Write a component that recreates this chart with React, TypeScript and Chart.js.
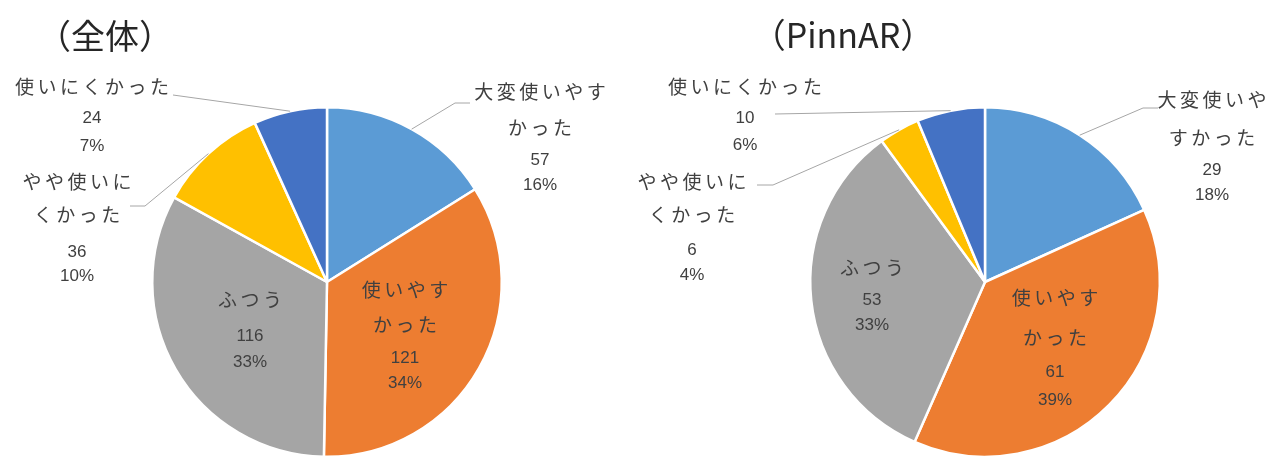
import React, { useEffect, useRef } from 'react';
import { Chart, registerables } from 'chart.js';

Chart.register(...registerables);

// ---- data ----
const categories = ['大変使いやすかった', '使いやすかった', 'ふつう', 'やや使いにくかった', '使いにくかった'];
const sliceColors = ['#5B9BD5', '#ED7D31', '#A5A5A5', '#FFC000', '#4472C4'];

const overallTitle = '（全体）';
const overallValues = [57, 121, 116, 36, 24];
const overallPercents = ['16%', '34%', '33%', '10%', '7%'];
const overallNameLines = [['大変使いやす', 'かった'], ['使いやす', 'かった'], ['ふつう'], ['やや使いに', 'くかった'], ['使いにくかった']];

const pinnarTitle = '（PinnAR）';
const pinnarValues = [29, 61, 53, 6, 10];
const pinnarPercents = ['18%', '39%', '33%', '4%', '6%'];
const pinnarNameLines = [['大変使いや', 'すかった'], ['使いやす', 'かった'], ['ふつう'], ['やや使いに', 'くかった'], ['使いにくかった']];

// ---- layout (page coordinates) ----
const W = 1272;
const H = 480;
const JP_FONT = "19px 'Noto Sans CJK JP', 'Noto Sans', sans-serif";
const NUM_FONT = "17px 'Liberation Sans Narrow', 'Liberation Sans', 'Noto Sans', sans-serif";
const TEXT_COLOR = '#404040';
const LEADER_COLOR = '#A6A6A6';

type LabelLayout = { x: number; ys: number[]; leader?: number[][] };

const overallLayout: LabelLayout[] = [
  { x: 540, ys: [92, 128, 160, 185], leader: [[455, 103], [470, 103]] },
  { x: 405, ys: [290, 325, 358, 383] },
  { x: 250, ys: [300, 336, 362] },
  { x: 77, ys: [182, 215, 252, 276], leader: [[145, 206], [130, 206]] },
  { x: 92, ys: [87, 118, 146], leader: [[173, 95]] },
];
const pinnarLayout: LabelLayout[] = [
  { x: 1212, ys: [100, 138, 170, 195], leader: [[1143, 108], [1158, 108]] },
  { x: 1055, ys: [298, 338, 372, 400] },
  { x: 872, ys: [268, 300, 325] },
  { x: 692, ys: [182, 215, 250, 275], leader: [[773, 185], [757, 185]] },
  { x: 745, ys: [87, 118, 145], leader: [[775, 114]] },
];

type PieSpec = {
  title: string;
  titleX: number;
  titleY: number;
  titleFont: string;
  values: number[];
  percents: string[];
  nameLines: string[][];
  layout: LabelLayout[];
  padding: { left: number; right: number; top: number; bottom: number };
};

const pies: PieSpec[] = [
  {
    title: overallTitle,
    titleX: 105,
    titleY: 36,
    titleFont: "34px 'Noto Sans CJK JP', sans-serif",
    values: overallValues,
    percents: overallPercents,
    nameLines: overallNameLines,
    layout: overallLayout,
    padding: { left: 151, right: W - 503, top: 106, bottom: H - 458 },
  },
  {
    title: pinnarTitle,
    titleX: 843,
    titleY: 35,
    titleFont: "34px 'Noto Sans CJK JP', sans-serif",
    values: pinnarValues,
    percents: pinnarPercents,
    nameLines: pinnarNameLines,
    layout: pinnarLayout,
    padding: { left: 809, right: W - 1161, top: 106, bottom: H - 458 },
  },
];

function makeLabelPlugin(spec: PieSpec) {
  return {
    id: 'pieLabels',
    afterDatasetsDraw(chart: any) {
      const ctx: CanvasRenderingContext2D = chart.ctx;
      const meta = chart.getDatasetMeta(0);
      ctx.save();
      // title
      ctx.font = spec.titleFont;
      ctx.fillStyle = '#262626';
      ctx.textAlign = 'center';
      ctx.textBaseline = 'middle';
      ctx.fillText(spec.title, spec.titleX, spec.titleY);

      meta.data.forEach((arc: any, i: number) => {
        const lay = spec.layout[i];
        const props = arc.getProps(['x', 'y', 'startAngle', 'endAngle', 'outerRadius'], true);
        const mid = (props.startAngle + props.endAngle) / 2;
        if (lay.leader) {
          const sx = props.x + Math.cos(mid) * props.outerRadius;
          const sy = props.y + Math.sin(mid) * props.outerRadius;
          ctx.beginPath();
          ctx.strokeStyle = LEADER_COLOR;
          ctx.lineWidth = 1;
          ctx.moveTo(sx, sy);
          lay.leader.forEach((p) => ctx.lineTo(p[0], p[1]));
          ctx.stroke();
        }
        const lines: { t: string; f: string }[] = [];
        spec.nameLines[i].forEach((t) => lines.push({ t, f: 'jp' }));
        lines.push({ t: String(spec.values[i]), f: 'num' });
        lines.push({ t: spec.percents[i], f: 'num' });
        lines.forEach((ln, k) => {
          ctx.fillStyle = TEXT_COLOR;
          ctx.textAlign = 'center';
          ctx.textBaseline = 'middle';
          if (ln.f === 'jp') {
            ctx.font = JP_FONT;
            (ctx as any).letterSpacing = '3.5px';
            ctx.fillText(ln.t, lay.x + 1.75, lay.ys[k]);
          } else {
            ctx.font = NUM_FONT;
            (ctx as any).letterSpacing = '0px';
            ctx.fillText(ln.t, lay.x, lay.ys[k]);
          }
        });
      });
      ctx.restore();
    },
  };
}

function PieCanvas({ spec }: { spec: PieSpec }) {
  const ref = useRef<HTMLCanvasElement | null>(null);
  useEffect(() => {
    if (!ref.current) return;
    const chart = new Chart(ref.current, {
      type: 'pie',
      data: {
        labels: categories,
        datasets: [
          {
            data: spec.values,
            backgroundColor: sliceColors,
            borderColor: '#FFFFFF',
            borderWidth: 2.5,
          },
        ],
      },
      options: {
        animation: false,
        responsive: false,
        devicePixelRatio: 1,
        layout: { padding: spec.padding },
        plugins: {
          legend: { display: false },
          tooltip: { enabled: false },
          title: { display: false },
        },
        events: [],
      },
      plugins: [makeLabelPlugin(spec)],
    });
    return () => chart.destroy();
  }, [spec]);
  return (
    <canvas
      ref={ref}
      width={W}
      height={H}
      style={{ position: 'absolute', left: 0, top: 0, width: W, height: H }}
    />
  );
}

export default function App() {
  return (
    <div
      style={{
        position: 'absolute',
        left: 0,
        top: 0,
        width: W,
        height: 456,
        overflow: 'hidden',
        background: '#FFFFFF',
      }}
    >
      {pies.map((p, i) => (
        <PieCanvas key={i} spec={p} />
      ))}
    </div>
  );
}
